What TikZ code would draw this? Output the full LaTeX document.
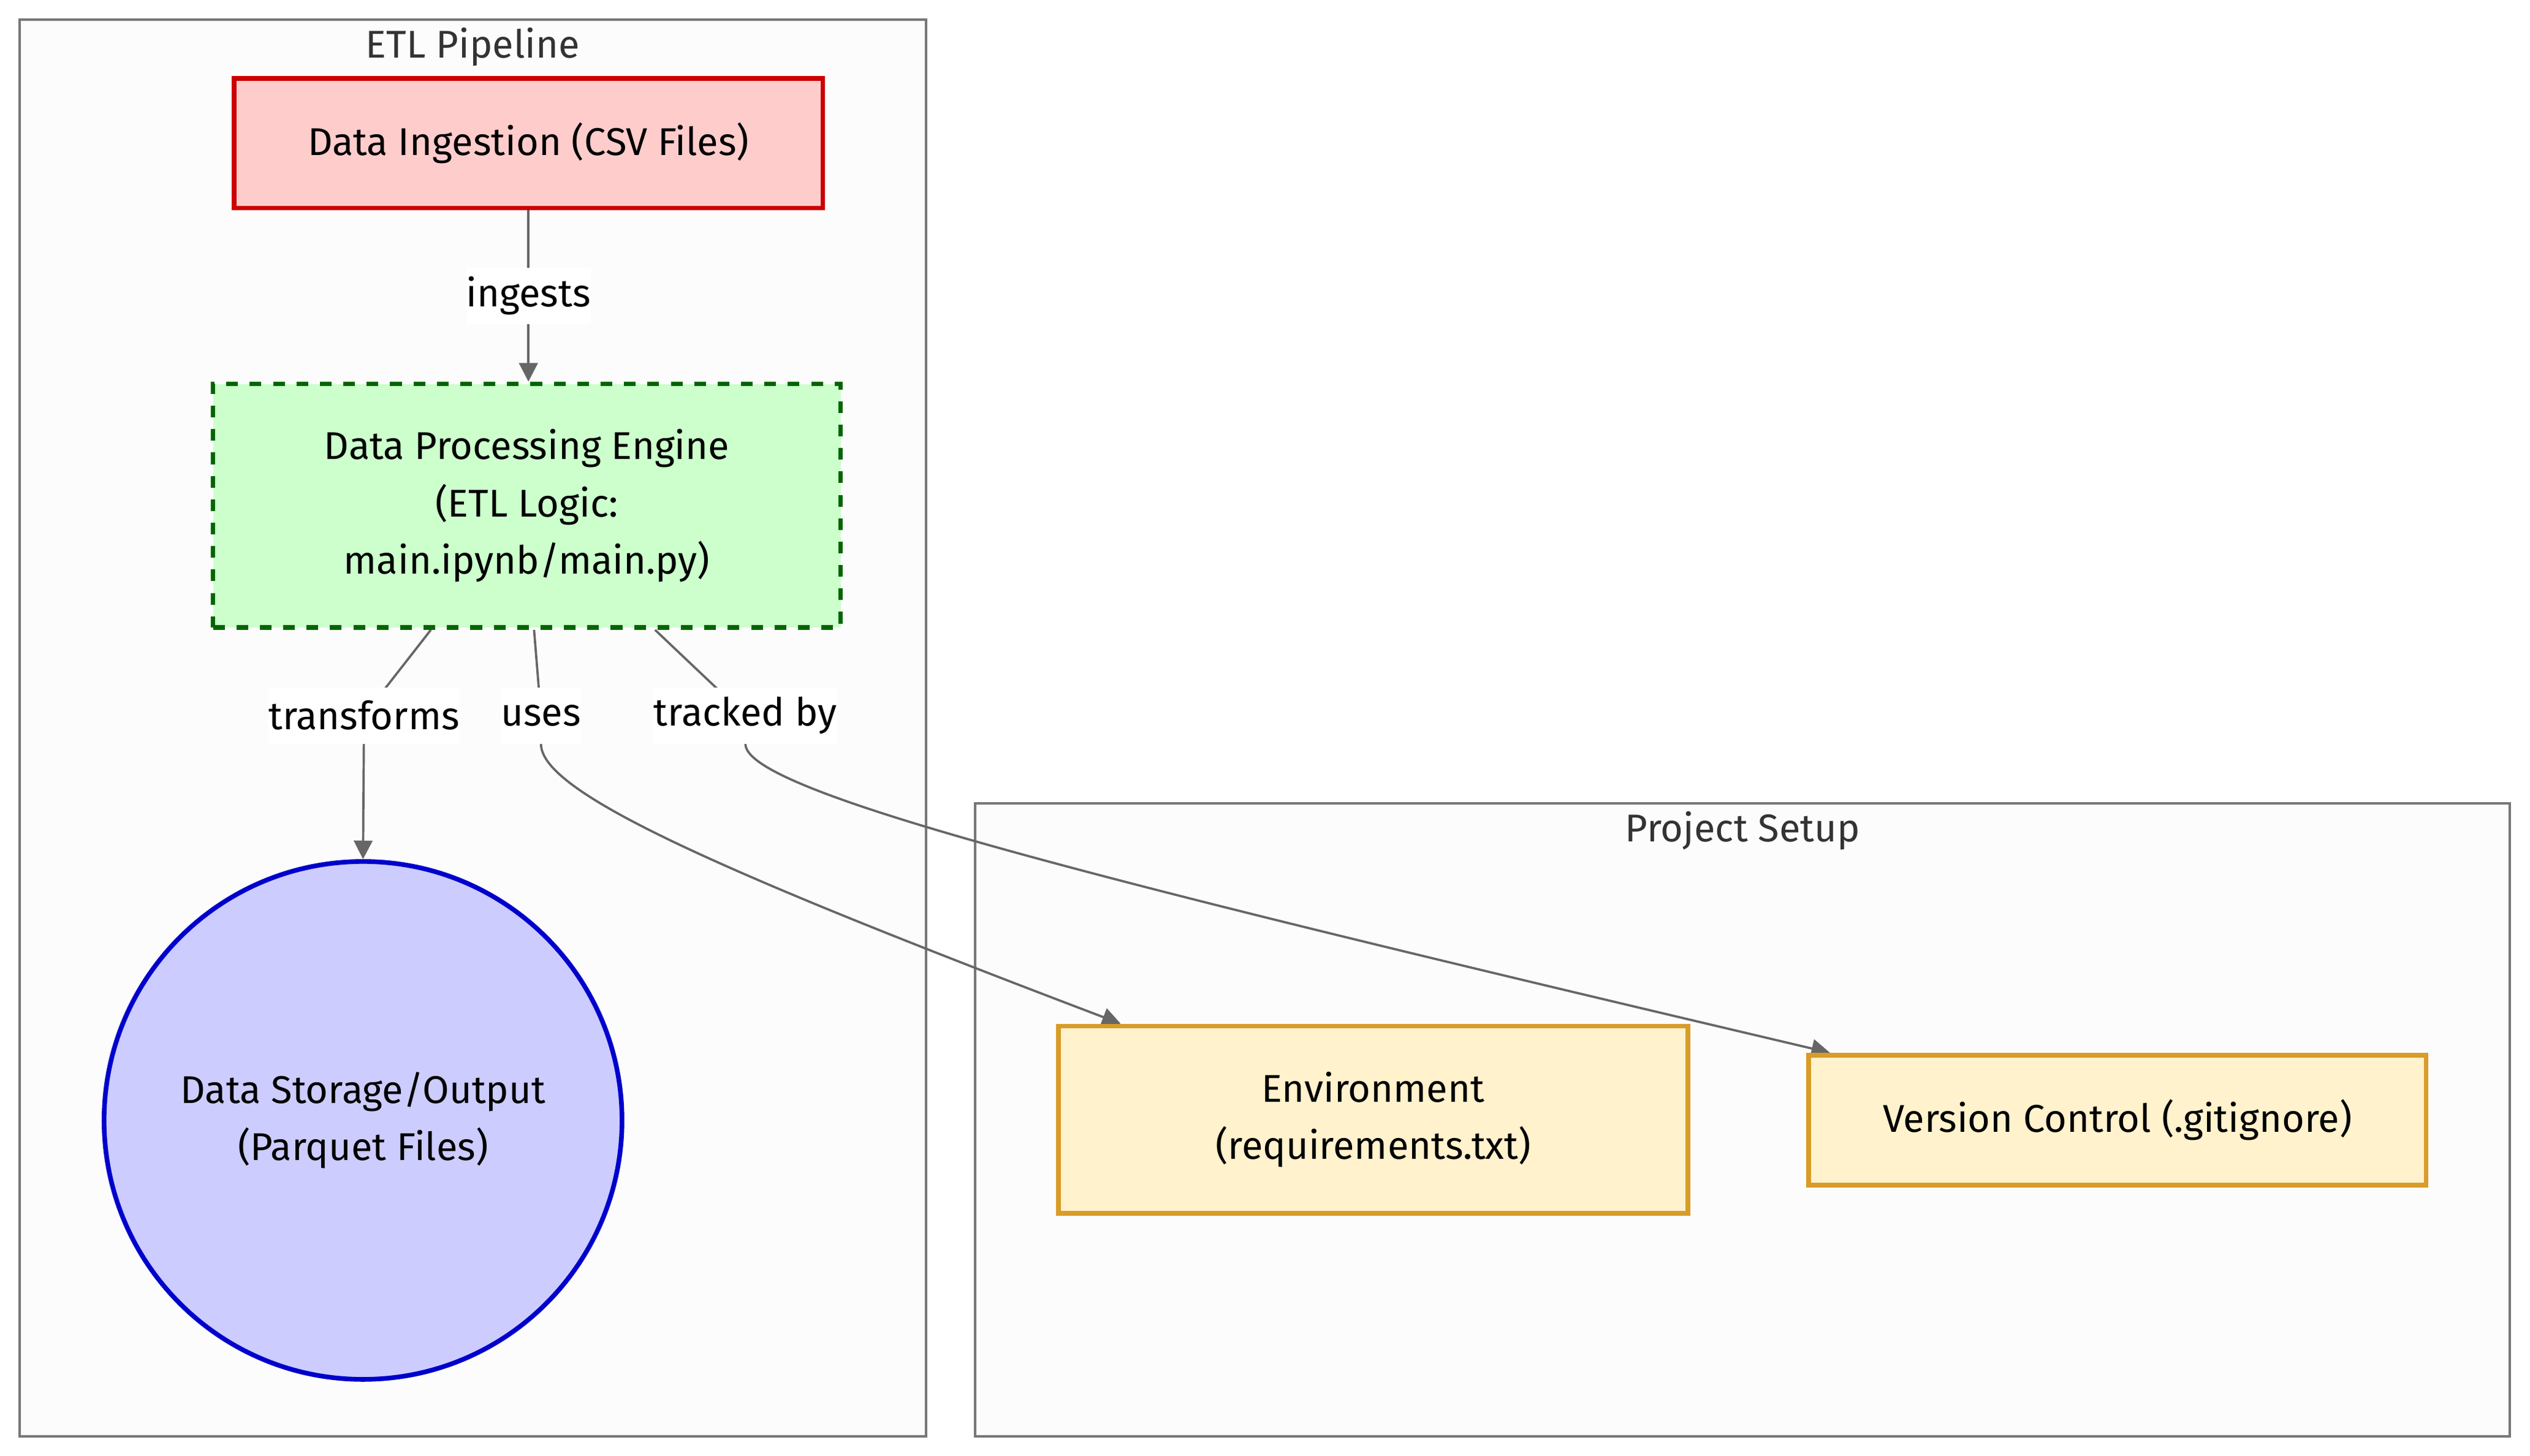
\documentclass[tikz,border=0pt]{standalone}
\usepackage{fontspec}
\setmainfont{Fira Sans}
\usetikzlibrary{arrows.meta}

\definecolor{grupoborde}{HTML}{777777}
\definecolor{grupofondo}{HTML}{FCFCFC}
\definecolor{titulotexto}{HTML}{333333}
\definecolor{rojoborde}{HTML}{CC0000}
\definecolor{rojofondo}{HTML}{FFCCCC}
\definecolor{verdeborde}{HTML}{006600}
\definecolor{verdefondo}{HTML}{CCFFCC}
\definecolor{azulborde}{HTML}{0000CC}
\definecolor{azulfondo}{HTML}{CCCCFF}
\definecolor{oroborde}{HTML}{D99C29}
\definecolor{orofondo}{HTML}{FFF2CC}
\definecolor{aristagris}{HTML}{666666}

\newcommand{\nodofont}{\fontsize{24}{35.5}\selectfont}

\pgfdeclarelayer{fondo}
\pgfdeclarelayer{aristas}
\pgfsetlayers{fondo,aristas,main}

\tikzset{
  grupo/.style={rectangle, draw=grupoborde, fill=grupofondo, line width=1.5pt, inner sep=0pt},
  titulo/.style={text=titulotexto, font=\nodofont, anchor=base, inner sep=0pt},
  caja/.style={rectangle, line width=2.9pt, font=\nodofont, align=center, text=black, inner sep=0pt},
  ingesta/.style={caja, draw=rojoborde, fill=rojofondo},
  proceso/.style={caja, draw=verdeborde, fill=verdefondo, dash pattern=on 7.25pt off 7.25pt},
  almacen/.style={circle, line width=2.9pt, font=\nodofont, align=center, draw=azulborde, fill=azulfondo, minimum size=321pt, inner sep=0pt},
  config/.style={caja, draw=oroborde, fill=orofondo},
  etiqueta/.style={fill=white, font=\nodofont, text=black, inner xsep=0pt, inner ysep=0pt, minimum height=35pt},
  arista/.style={draw=aristagris, line width=1.4pt, -{Triangle[length=11.5pt,width=11.5pt]}},
}

\begin{document}
\begin{tikzpicture}[x=1pt, y=-1pt]
    % Grupos
    \begin{pgfonlayer}{fondo}
    \fill[white] (0,0) rectangle (1568,902.5);
    \node[grupo, minimum width=562pt, minimum height=878.5pt] (etl) at (293,451.25) {};
    \node[grupo, minimum width=951pt, minimum height=392.5pt] (setup) at (1080,694.25) {};
    \end{pgfonlayer}
    \useasboundingbox (0,0) rectangle (1568,902.5);

    \node[titulo] at ([yshift=-24.5pt]etl.north) {ETL Pipeline};
    \node[titulo] at ([yshift=-24.5pt]setup.north) {Project Setup};

    % Nodos
    \coordinate (I) at (327.5,88.75);
    \coordinate (P) at (326.5,313.5);
    \coordinate (S) at (225,694.5);
    \coordinate (E) at (851,694);
    \coordinate (V) at (1312.3,694.3);

    \node[ingesta, minimum width=365pt, minimum height=80.5pt] (ing) at (I) {Data Ingestion (CSV Files)};
    \node[proceso, minimum width=389pt, minimum height=151pt] (proc) at (P)
        {Data Processing Engine\\(ETL Logic:\\main.ipynb/main.py)};
    \node[almacen] (sto) at (S) {Data Storage/Output\\(Parquet Files)};
    \node[config, minimum width=390pt, minimum height=116pt] (env) at (E) {Environment\\(requirements.txt)};
    \node[config, minimum width=382.6pt, minimum height=80.6pt] (vc) at (V) {Version Control (.gitignore)};

    % Etiquetas
    \node[etiqueta] (ingL) at (327.5,183.3) {ingests};
    \node[etiqueta] (trfL) at (225.6,443.5) {transforms};
    \node[etiqueta] (useL) at (335.3,443.5) {uses};
    \node[etiqueta] (trkL) at (462,443.5) {tracked by};

    % Flechas
    \begin{pgfonlayer}{aristas}
    \draw[arista] (ing.south) -- (ingL.center) -- (ing.south |- proc.north);
    \draw[arista] ([xshift=-59.5pt]proc.south) -- (trfL.center) -- (sto.north);
    \draw[arista] ([xshift=4.5pt]proc.south) -- (useL.center) -- (useL.south)
        .. controls +(0,30) and +(-250,-95) .. ([xshift=40pt]env.north west);
    \draw[arista] ([xshift=79.5pt]proc.south) -- (trkL.center) -- (trkL.south)
        .. controls +(0,30) and +(-450,-106) .. ([xshift=14.6pt]vc.north west);
    \end{pgfonlayer}
\end{tikzpicture}
\end{document}
